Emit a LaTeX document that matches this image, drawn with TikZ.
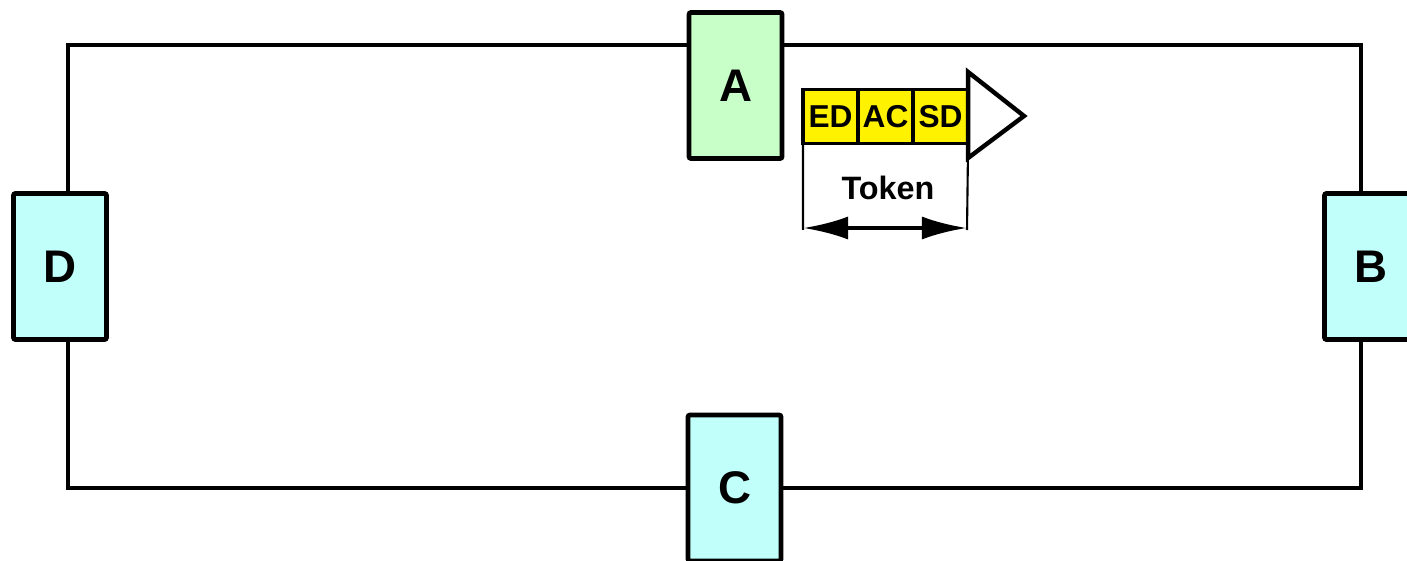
\documentclass[tikz,border=0pt]{standalone}
\usepackage{fontspec}
\setmainfont{Liberation Sans}
\usetikzlibrary{arrows.meta,positioning}

\definecolor{stationgreen}{RGB}{200,255,200}
\definecolor{stationcyan}{RGB}{192,255,250}

\begin{document}
\begin{tikzpicture}
		[x=0.01cm,y=-0.01cm,
		station/.style={shape=rectangle,draw,line width=1.35pt,rounded corners=0.6pt,
			minimum width=0.93cm,minimum height=1.46cm,inner sep=0pt,
			font=\fontsize{13}{15}\selectfont\bfseries},
		field/.style={shape=rectangle,draw,fill=yellow,line width=1.05pt,outer sep=0pt,
			minimum width=0.55cm,minimum height=0.54cm,inner sep=0pt,
			font=\fontsize{9}{10}\selectfont\bfseries}
		]
		\useasboundingbox (0,0) rectangle (1407,561);
		
		% ring
		\coordinate (nw) at (68,45);
		\coordinate (se) at (1361,488);
		\draw[line width=1.25pt] (nw) rectangle (se);
		
		\node [station,fill=stationgreen] (A) at (735.5,85.5) {A};
		\node [station,fill=stationcyan] (B) at (1371,266.5) {B};
		\node [station,fill=stationcyan] (C) at (734.5,488) {C};
		\node [station,fill=stationcyan] (D) at (60,266.5) {D};
		
		% token
		\node [field] (ED) at (830.5,116.5) {ED};
		\node [field,right=0pt of ED] (AC) {AC};
		\node [field,right=0pt of AC] (SD) {SD};
		\coordinate (tip) at (1024,116);
		\draw[line width=1.25pt,line join=miter,fill=white]
		(SD.east |- 0,72) -- (tip) -- (SD.east |- 0,158) -- cycle;
		
		\coordinate (left) at (803,230);
		\coordinate (right) at (967,230);
		\draw[line width=0.6pt] (ED.south west) -- (left);
		\draw[line width=0.6pt] (SD.south east) -- (right);
		\draw[line width=1.2pt,{Latex[length=0.45cm,width=0.23cm]}-{Latex[length=0.45cm,width=0.23cm]}]
		(left |- 0,228) -- (right |- 0,228);
		\node [font=\fontsize{9.2}{10}\selectfont\bfseries] (token) at (888,188) {Token};
		
		\end{tikzpicture}
\end{document}
